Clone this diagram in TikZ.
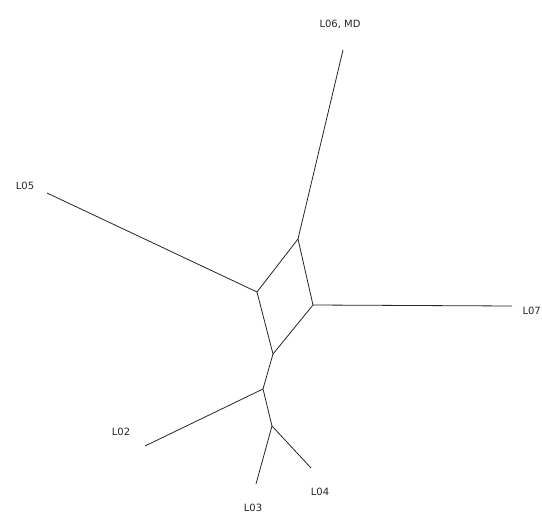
\documentclass[tikz,border=0pt]{standalone}
\usepackage{fontspec}
\setmainfont{DejaVu Sans}
\begin{document}
\begin{tikzpicture}[x=1pt,y=-1pt,
  edge/.style={draw=black!85,line width=0.8pt},
  leaflabel/.style={font=\fontsize{10}{12}\selectfont,text=black!85,inner sep=0pt}]
\useasboundingbox (0,0) rectangle (542,514);
\fill[white] (0,0) rectangle (542,514);
% internal nodes
\coordinate (A) at (298,239);
\coordinate (B) at (257,292);
\coordinate (C) at (313,305);
\coordinate (D) at (273,354);
\coordinate (E) at (263,389);
\coordinate (F) at (272,426);
% leaf ends
\coordinate (l6) at (343,50);
\coordinate (l5) at (47,193);
\coordinate (l7) at (512,306);
\coordinate (l2) at (145,446);
\coordinate (l3) at (256,484);
\coordinate (l4) at (311,468);
% labels
\node[leaflabel] (t6) at (340,24) {L06, MD};
\node[leaflabel] (t5) at (25,186) {L05};
\node[leaflabel,anchor=east] (t7) at (541,311) {L07};
\node[leaflabel] (t2) at (121,432) {L02};
\node[leaflabel] (t3) at (253,508) {L03};
\node[leaflabel] (t4) at (320,492) {L04};
% edges
\draw[edge] (A) -- (l6);
\draw[edge] (B) -- (l5);
\draw[edge] (C) -- (l7);
\draw[edge] (A) -- (B);
\draw[edge] (A) -- (C);
\draw[edge] (B) -- (D);
\draw[edge] (C) -- (D);
\draw[edge] (D) -- (E);
\draw[edge] (E) -- (l2);
\draw[edge] (E) -- (F);
\draw[edge] (F) -- (l3);
\draw[edge] (F) -- (l4);
\end{tikzpicture}
\end{document}
